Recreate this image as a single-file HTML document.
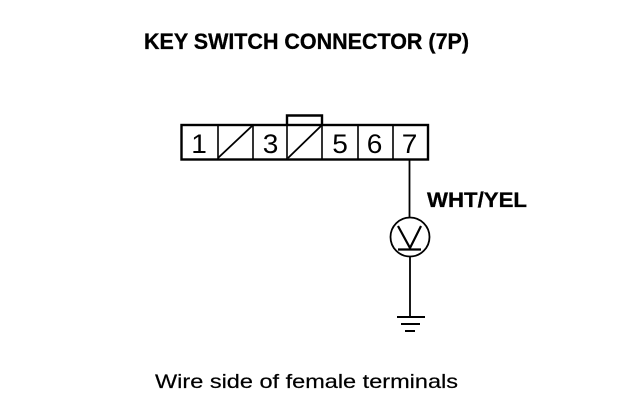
<!DOCTYPE html>
<html><head><meta charset="utf-8"><style>
html,body{margin:0;padding:0;background:#fff}
svg{display:block}
text{font-family:"Liberation Sans",sans-serif;fill:#000}
</style></head><body>
<svg width="624" height="418" viewBox="0 0 624 418" xmlns="http://www.w3.org/2000/svg">
<text x="144" y="49" font-size="22" font-weight="bold" stroke="#000" stroke-width="0.3" textLength="325" lengthAdjust="spacingAndGlyphs">KEY SWITCH CONNECTOR (7P)</text>
<g fill="none" stroke="#000">
<rect x="181.5" y="125" width="246.5" height="34.5" stroke-width="2.4"/>
<path d="M218 125V160M253 125V160M287 125V160M322 125V160M358 125V160M393 125V160" stroke-width="1.6"/>
<path d="M218 158L252 126M288 158L321 126" stroke-width="1.8"/>
<path d="M287 125V115.5H322V125" stroke-width="2.4"/>
<path d="M409.500 160V218M410 257V316" stroke-width="1.800"/>
<circle cx="410" cy="237" r="19.500" stroke-width="1.800"/>
<path d="M398 226L410 248L421 226M398 249.500H421" stroke-width="2.200"/>
<path d="M397 317H425M401 324H420M405 331H415" stroke-width="2"/>
</g>
<g font-size="27" text-anchor="middle">
<text transform="translate(199,153) scale(1.04,1)">1</text>
<text transform="translate(270.500,153) scale(1.04,1)">3</text>
<text transform="translate(340,153) scale(1.04,1)">5</text>
<text transform="translate(374.500,153) scale(1.04,1)">6</text>
<text transform="translate(409.500,153) scale(1.04,1)">7</text>
</g>
<text x="427" y="207" font-size="21" font-weight="bold" stroke="#000" stroke-width="0.3" textLength="100" lengthAdjust="spacingAndGlyphs">WHT/YEL</text>
<text x="155" y="388" font-size="19.500" stroke="#000" stroke-width="0.2" textLength="303" lengthAdjust="spacingAndGlyphs">Wire side of female terminals</text>
</svg>
</body></html>
